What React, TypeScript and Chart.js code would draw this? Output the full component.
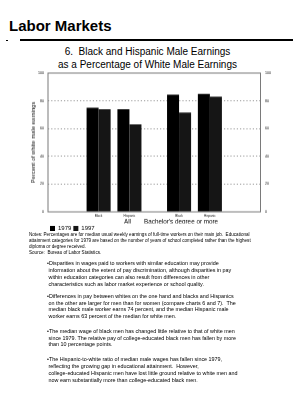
import React, { useEffect, useRef } from "react";
import { Chart, registerables } from "chart.js";
Chart.register(...registerables);

// ---- data ----
const groups = ["All", "Bachelor's degree or more"];
const categories = ["Black", "Hispanic"];
const seriesNames = ["1979", "1997"];
const values1979 = [75, 74, 84.5, 85];
const values1997 = [74, 63, 71.5, 83];
const yTickValues = [0, 20, 40, 60, 80, 100];

const notesLines = [
  "Notes: Percentages are for median usual weekly earnings of full-time workers on their main job.  Educational",
  "attainment categories for 1979 are based on the number of years of school completed rather than the highest",
  "diploma or degree received.",
  "Source:  Bureau of Labor Statistics.",
];
const bullets = [
  [
    "\u2022Disparities in wages paid to workers with similar education may provide",
    " information about the extent of pay discrimination, although disparities in pay",
    " within education categories can also result from differences in other",
    " characteristics such as labor market experience or school quality.",
  ],
  [
    "\u2022Differences in pay between whites on the one hand and blacks and Hispanics",
    " on the other are larger for men than for women (compare charts 6 and 7).  The",
    " median black male worker earns 74 percent, and the median Hispanic male",
    " worker earns 63 percent of the median for white men.",
  ],
  [
    "\u2022The median wage of black men has changed little relative to that of white men",
    " since 1979. The relative pay of college-educated black men has fallen by more",
    " than 10 percentage points.",
  ],
  [
    "\u2022The Hispanic-to-white ratio of median male wages has fallen since 1979,",
    " reflecting the growing gap in educational attainment.  However,",
    " college-educated Hispanic men have lost little ground relative to white men and",
    " now earn substantially more than college-educated black men.",
  ],
];

// ---- layout constants ----
const FONT = "'Liberation Sans', Arial, Helvetica, sans-serif";
const GROUP_GAP = 0.61;
const EDGE = 0.78;

const slot = categories.length + GROUP_GAP;
const xPositions: number[] = [];
const xLabels: string[] = [];
groups.forEach((_, gi) =>
  categories.forEach((c, ci) => {
    xPositions.push(gi * slot + ci);
    xLabels.push(c);
  })
);
const groupCenters = groups.map((_, gi) => gi * slot + (categories.length - 1) / 2);
const xMin = -EDGE;
const xMax = xPositions[xPositions.length - 1] + EDGE;

const framePlugin = {
  id: "frame",
  beforeDatasetsDraw(chart: any) {
    const { ctx, chartArea: a } = chart;
    ctx.save();
    ctx.strokeStyle = "#7a7a7a";
    ctx.lineWidth = 1;
    ctx.strokeRect(a.left, a.top, a.right - a.left, a.bottom - a.top);
    ctx.restore();
  },
};

function BarChart() {
  const ref = useRef<HTMLCanvasElement>(null);
  useEffect(() => {
    if (!ref.current) return;
    const yTickFont = { family: FONT, size: 3.6 };
    const chart = new Chart(ref.current, {
      type: "bar",
      data: {
        datasets: [
          {
            label: seriesNames[0],
            data: xPositions.map((x, i) => ({ x, y: values1979[i] })),
            backgroundColor: "#000000",
            borderWidth: 0,
            categoryPercentage: 0.78,
            barPercentage: 1,
          },
          {
            label: seriesNames[1],
            data: xPositions.map((x, i) => ({ x, y: values1997[i] })),
            backgroundColor: "#151515",
            borderWidth: 0,
            categoryPercentage: 0.78,
            barPercentage: 1,
          },
        ],
      },
      options: {
        animation: false,
        responsive: true,
        maintainAspectRatio: false,
        layout: { padding: { left: 25, right: 0, top: 7, bottom: 0 } },
        plugins: {
          tooltip: { enabled: false },
          legend: {
            position: "bottom",
            align: "start",
            fullSize: false,
            labels: {
              boxWidth: 5,
              boxHeight: 5,
              padding: 2,
              color: "#000",
              font: { family: FONT, size: 6 },
            },
          },
        },
        scales: {
          x: {
            type: "linear",
            min: xMin,
            max: xMax,
            grid: { display: false, drawTicks: false },
            border: { display: false },
            afterBuildTicks: (axis: any) => {
              axis.ticks = xPositions.map((v) => ({ value: v }));
            },
            afterFit: (axis: any) => {
              axis.height = 6.5;
            },
            ticks: {
              autoSkip: false,
              maxRotation: 0,
              padding: 2.6,
              color: "#111",
              font: { family: FONT, size: 3.1 },
              callback: (_v: any, i: number) => xLabels[i],
            },
          },
          xg: {
            type: "linear",
            position: "bottom",
            weight: 1,
            min: xMin,
            max: xMax,
            grid: { display: false, drawTicks: false },
            border: { display: false },
            afterBuildTicks: (axis: any) => {
              axis.ticks = groupCenters.map((v) => ({ value: v }));
            },
            afterFit: (axis: any) => {
              axis.height = 5;
            },
            ticks: {
              autoSkip: false,
              maxRotation: 0,
              padding: 0.2,
              color: "#000",
              font: { family: FONT, size: 6.3 },
              callback: (_v: any, i: number) => groups[i],
            },
          },
          y: {
            position: "left",
            min: 0,
            max: 100,
            afterBuildTicks: (axis: any) => {
              axis.ticks = yTickValues.map((v) => ({ value: v }));
            },
            afterFit: (axis: any) => {
              axis.width = 23;
            },
            grid: {
              drawTicks: false,
              lineWidth: 1,
              color: (c: any) =>
                c.tick && c.tick.value > 0 && c.tick.value < 100 ? "#9a9a9a" : "rgba(0,0,0,0)",
            },
            border: { display: false, dash: [1.2, 2] },
            title: {
              display: true,
              text: "Percent of white male earnings",
              color: "#111",
              font: { family: FONT, size: 5.9 },
              padding: { top: 5, bottom: 0 },
            },
            ticks: { padding: 4, color: "#111", font: yTickFont },
          },
          y2: {
            position: "right",
            min: 0,
            max: 100,
            afterBuildTicks: (axis: any) => {
              axis.ticks = yTickValues.map((v) => ({ value: v }));
            },
            afterFit: (axis: any) => {
              axis.width = 43.5;
            },
            grid: { display: false, drawTicks: false },
            border: { display: false },
            ticks: { padding: 4.5, color: "#111", font: yTickFont },
          },
        },
      } as any,
      plugins: [framePlugin],
    });
    return () => chart.destroy();
  }, []);
  return <canvas ref={ref} />;
}

export default function App() {
  const abs = (s: React.CSSProperties): React.CSSProperties => ({ position: "absolute", ...s });
  return (
    <div
      style={{
        position: "absolute",
        left: 0,
        top: 0,
        width: 304,
        height: 400,
        background: "#fff",
        fontFamily: FONT,
        color: "#000",
        overflow: "hidden",
      }}
    >
      <div style={abs({ left: 9, top: 18, fontSize: 15, lineHeight: "15px", fontWeight: "bold", whiteSpace: "nowrap" })}>
        Labor Markets
      </div>
      <div style={abs({ left: 6, top: 39.5, width: 2, height: 1.5, background: "#000" })} />
      <div style={abs({ left: 20, top: 39.3, width: 273, height: 1.5, background: "#000" })} />
      <div style={abs({ left: 0, top: 46.4, width: 295, fontSize: 10, lineHeight: "12.5px", textAlign: "center", whiteSpace: "pre" })}>
        {"6.  Black and Hispanic Male Earnings"}
        <br />
        {"as a Percentage of White Male Earnings"}
      </div>
      <div style={abs({ left: 0, top: 66, width: 304, height: 174.5 })}>
        <BarChart />
      </div>
      <div style={abs({ left: 29, top: 231.6, fontSize: 4.6, lineHeight: "6px", whiteSpace: "pre" })}>
        {notesLines.map((l, i) => (
          <div key={i}>{l}</div>
        ))}
      </div>
      {bullets.map((lines, bi) => (
        <div
          key={bi}
          style={abs({
            left: 47,
            top: [260.1, 292.8, 327.8, 356.1][bi],
            fontSize: 5.4,
            lineHeight: "6.85px",
            whiteSpace: "pre",
          })}
        >
          {lines.map((l, i) => (
            <div key={i}>{l}</div>
          ))}
        </div>
      ))}
    </div>
  );
}
